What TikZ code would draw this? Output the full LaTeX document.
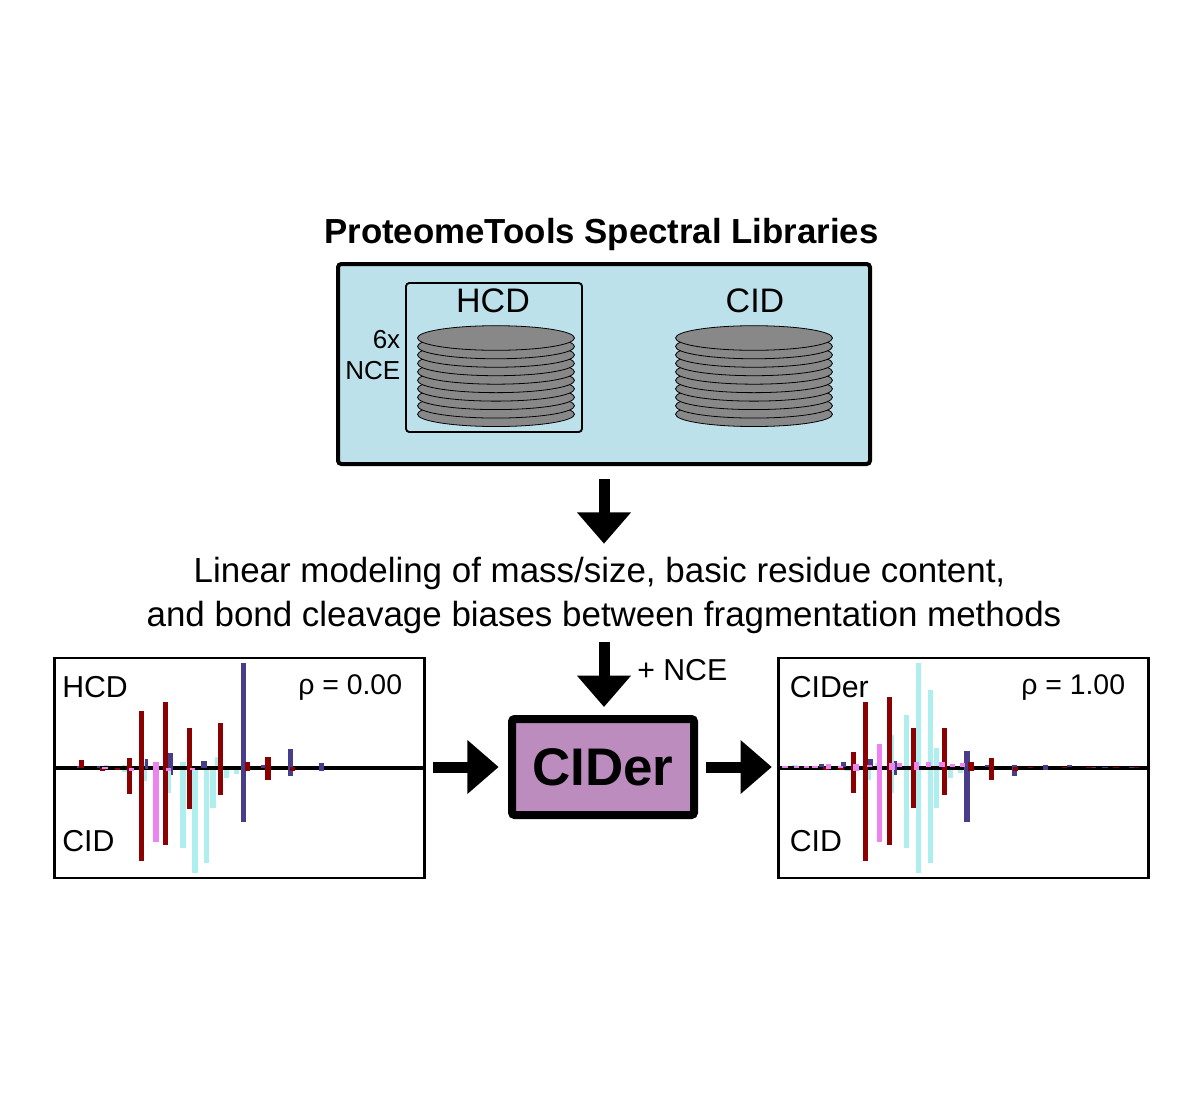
\documentclass[tikz,border=0pt]{standalone}
\usepackage{fontspec}
\setmainfont{Liberation Sans}
\usetikzlibrary{arrows.meta}
\definecolor{libfill}{HTML}{BCE1EB}
\definecolor{ciderfill}{HTML}{BC8CBF}
\definecolor{diskgray}{HTML}{888888}
\definecolor{barred}{HTML}{8B0000}
\definecolor{barnavy}{HTML}{483D8B}
\definecolor{barpink}{HTML}{EE82EE}
\definecolor{barcyan}{HTML}{AFEEEE}
\newcommand{\fs}[1]{\fontsize{#1}{#1}\selectfont}
\newcommand{\barset}[4]{% origin x, colour, half width (px), list x/top/bottom in 3x zoom units
  \foreach \bx/\ba/\bb in {#4}{
    \fill[#2] ({#1+\bx/3-#3},{650+\ba/3}) rectangle ({#1+\bx/3+#3},{650+\bb/3});
  }}
\newcommand{\disk}[2]{\draw[diskline] (#1,#2) ellipse [x radius=78.5,y radius=12.3];}
\tikzset{
  x=0.75pt,y=-0.75pt,
  libbox/.style={draw=black,fill=libfill,line width=3pt,rounded corners=2.5pt,minimum width=399pt,minimum height=150pt,inner sep=0pt},
  methodbox/.style={draw=black,line width=1.4pt,rounded corners=2.5pt,minimum width=132pt,minimum height=111.75pt,inner sep=0pt},
  diskline/.style={draw=black,fill=diskgray,line width=0.6pt},
  plotbox/.style={draw=black,line width=2.1pt,minimum width=277.5pt,minimum height=165pt,inner sep=0pt},
  ciderbox/.style={draw=black,fill=ciderfill,line width=6pt,rounded corners=2pt,minimum width=136.5pt,minimum height=72pt,inner sep=0pt,font=\fs{39.7}\bfseries},
  modeltext/.style={inner sep=0pt,minimum width=600pt,minimum height=77.25pt,align=center,font=\fontsize{26.2}{33}\selectfont},
  bigarrow/.style={line width=8.25pt,-{Triangle[length=23.5pt,width=39pt]}},
  label/.style={inner sep=0pt,anchor=base},
  plotlabel/.style={inner sep=0pt,anchor=base west,font=\fs{22.7}},
  rholabel/.style={inner sep=0pt,anchor=base west,font=\fs{21.3}},
  axisline/.style={black,line width=2.4pt}
}
\begin{document}
\begin{tikzpicture}
\useasboundingbox (0,0) rectangle (1200,1100);
\fill[white] (0,0) rectangle (1200,1100);

% library panel
\node[label,font=\fs{26.1}\bfseries] (title) at (601.5,243) {ProteomeTools Spectral Libraries};
\node[libbox] (lib) at (604,364) {};
\node[methodbox] (hcdbox) at (494,357.5) {};
\node[label,font=\fs{25.5}] (hcdlab) at (493,312) {HCD};
\node[label,font=\fs{25.5}] (cidlab) at (755,312) {CID};
\node[inner sep=0pt,anchor=base east,font=\fs{19.5}] (sixx) at (400.5,348) {6x};
\node[inner sep=0pt,anchor=base east,font=\fs{19.5}] (nce) at (400.5,379) {NCE};
\foreach \cx in {496,754}{
  \foreach \k in {9,8,...,0}{
    \disk{\cx}{338+\k*8.47}
  }
}

% model text and central box
\node[modeltext] (model) at (604,595.5) {Linear modeling of mass/size, basic residue content,\hspace*{6.75pt}\\and bond cleavage biases between fragmentation methods};
\node[ciderbox] (cider) at (603,767) {CIDer};
\node[inner sep=0pt,anchor=base west,font=\fs{22.7}] (plusnce) at (637,680) {+ NCE};

% left plot
\node[plotbox] (hcdplot) at (239.5,768) {};
\barset{40}{barcyan}{2.75}{429/335/595,465/353/668,500/353/640,519/353/473,560/353/385,590/353/372,253/345/365,200/345/353}
\barset{40}{barcyan}{1.4}{388/340/430,317/335/392,530/322/353}
\draw[axisline] (hcdplot.west) -- (hcdplot.east);
\barset{40}{barpink}{2.75}{348/335/575}
\barset{40}{barnavy}{2.75}{610/38/517,752/298/378,845/338/362,492/334/353,392/310/353,670/345/353}
\barset{40}{barnavy}{1.4}{396/353/376,320/328/358,115/349/353,175/349/353}
\barset{40}{barred}{2.75}{124/330/353,269/323/432,304/183/634,377/155/585,448/233/476,541/218/436,622/337/362,684/322/390,757/350/362,187/353/362,232/353/361}
\barset{40}{barpink}{2.75}{275/353/362,385/353/362,458/353/360,195/350/358}
\node[plotlabel] (hcdtop) at (62,697) {HCD};
\node[plotlabel] (cidbot) at (62,851.5) {CID};
\node[rholabel] (rhoa) at (298,694) {ρ = 0.00};

% right plot
\node[plotbox] (cidplot) at (963.25,768) {};
\barset{770}{barcyan}{2.75}{410/195/595,446/38/668,482/120/640,500/295/473,541/352/384,572/352/370,234/352/363,75/345/352}
\barset{770}{barcyan}{1.6}{368/255/428,298/352/390,320/340/352}
\draw[axisline] (cidplot.west) -- (cidplot.east);
\barset{770}{barpink}{2.75}{329/283/575}
\barset{770}{barnavy}{2.75}{591/303/517,734/345/377,827/345/360,301/327/352,220/336/352,155/343/352,652/346/352,898/344/352,970/350/354,1005/350/354,1085/350/354}
\barset{770}{barnavy}{1.4}{376/332/375}
\barset{770}{barred}{2.75}{250/307/430,286/155/634,358/142/586,430/235/475,523/235/436,603/337/362,665/323/390,737/350/362,168/352/361,213/352/361,782/350/354,883/350/354,957/350/354,1038/350/354,1100/350/354}
\barset{770}{barpink}{2.75}{258/343/362,176/343/358,366/340/360,388/340/352,439/335/360,475/335/352,516/335/352,547/342/352,578/340/352,298/345/352,212/347/355,45/349/353,80/349/353,110/349/353,135/349/353}
\node[plotlabel] (ciderlab) at (789.5,697) {CIDer};
\node[plotlabel] (cidbotb) at (789.5,851.5) {CID};
\node[rholabel] (rhob) at (1021,694) {ρ = 1.00};

% arrows
\draw[bigarrow,shorten <=10pt] (lib.south) -- (model.north);
\draw[bigarrow,shorten <=-3.75pt,shorten >=6pt] (model.south) -- (model.south |- cider.north);
\draw[bigarrow,shorten <=5.5pt,shorten >=7pt] (hcdplot.east |- cider.west) -- (cider.west);
\draw[bigarrow,shorten <=6pt,shorten >=3.75pt] (cider.east) -- (cidplot.west |- cider.east);
\end{tikzpicture}
\end{document}
